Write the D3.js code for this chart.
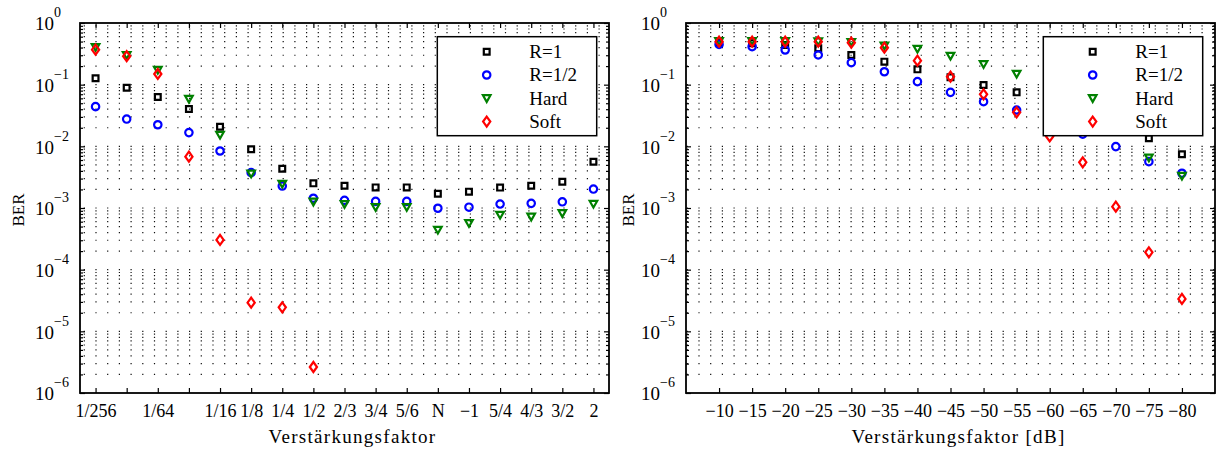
<!DOCTYPE html>
<html>
<head>
<meta charset="utf-8">
<script src="https://cdn.jsdelivr.net/npm/d3@7"></script>
<style>
  html, body { margin: 0; padding: 0; background: #fff; }
  svg { display: block; }
  text { font-family: "Liberation Serif", "DejaVu Serif", serif; fill: #000; }
</style>
</head>
<body>
<svg id="chart" width="1219" height="452"></svg>
<script>
// ---- Left panel: BER versus gain factor (categorical) ----
const leftTickLabels = ["1/256", "", "1/64", "", "1/16", "1/8", "1/4", "1/2", "2/3", "3/4", "5/6", "N", "\u22121", "5/4", "4/3", "3/2", "2"];
const leftR1   = [0.127, 0.089, 0.063, 0.0403, 0.0208, 0.00895, 0.00434, 0.00251, 0.0023, 0.00216, 0.00216, 0.0017, 0.00184, 0.00214, 0.0023, 0.00267, 0.00563];
const leftR12  = [0.044, 0.0277, 0.0224, 0.0167, 0.0084, 0.00374, 0.00227, 0.00144, 0.00133, 0.00128, 0.00128, 0.00099, 0.00103, 0.00116, 0.00119, 0.00126, 0.00203];
const leftHard = [0.404, 0.30, 0.173, 0.0586, 0.0153, 0.0036, 0.00245, 0.00126, 0.00115, 0.00103, 0.00103, 0.00044, 0.000565, 0.00077, 0.00072, 0.00082, 0.00116];
const leftSoft = [0.37, 0.29, 0.149, 0.0068, 0.000303, 2.92e-5, 2.45e-5, 2.64e-6, null, null, null, null, null, null, null, null, null];

// ---- Right panel: BER versus gain factor in dB ----
const dbValues  = [-10, -15, -20, -25, -30, -35, -40, -45, -50, -55, -60, -65, -70, -75, -80];
const rightR1   = [0.48, 0.47, 0.44, 0.389, 0.303, 0.236, 0.177, 0.132, 0.0988, 0.0751, 0.05, 0.035, 0.024, 0.0135, 0.00743];
const rightR12  = [0.45, 0.413, 0.365, 0.303, 0.227, 0.162, 0.112, 0.0751, 0.053, 0.0388, 0.026, 0.0158, 0.0099, 0.00564, 0.00366];
const rightHard = [0.505, 0.505, 0.505, 0.5, 0.49, 0.43, 0.38, 0.292, 0.214, 0.149, 0.09, 0.05, 0.025, 0.00654, 0.0033];
const rightSoft = [0.497, 0.497, 0.497, 0.497, 0.48, 0.398, 0.245, 0.135, 0.0697, 0.0356, 0.0145, 0.0055, 0.00105, 1.91e-4, 3.35e-5];

const seriesNames = ["R=1", "R=1/2", "Hard", "Soft"];
const yLabel = "BER";

const svg = d3.select("#chart");
const Y0 = 23, Y1 = 393;
const y = d3.scaleLog().domain([1, 1e-6]).range([Y0, Y1]);

const markerStyles = [
  { color: "#000000", path: "M-2.9,-2.9H2.9V2.9H-2.9Z" },
  { color: "#0000ff", path: "M3.7,0A3.7,3.7 0 1,1 -3.7,0A3.7,3.7 0 1,1 3.7,0Z" },
  { color: "#008000", path: "M-3.8,-3.1L3.8,-3.1L0,3.6Z" },
  { color: "#ff0000", path: "M0,-5L3.6,0L0,5L-3.6,0Z" }
];
const markerStroke = 2.2;

const majorTicks = d3.range(0, -7, -1).map(e => Math.pow(10, e));
const minorTicks = [];
for (let e = -6; e < 0; e++) for (let m = 2; m <= 9; m++) minorTicks.push(m * Math.pow(10, e));

function drawPanel(cfg) {
  const { x0, x1, x, xTicks, xFormat, series, xTitle } = cfg;
  const g = svg.append("g");

  // dotted horizontal grid at every major and minor decade position
  const gridVals = majorTicks.filter(v => v < 1 && v > 1e-6).concat(minorTicks);
  g.append("g").selectAll("line").data(gridVals).join("line")
    .attr("x1", x0).attr("x2", x1)
    .attr("y1", d => y(d)).attr("y2", d => y(d))
    .attr("stroke", "#111").attr("stroke-width", 1.2)
    .attr("stroke-dasharray", "1.2,10.5")
    .attr("stroke-dashoffset", cfg.dashOffset);

  // y axes (ticks pointing inward on both sides)
  const yl = g.append("g").attr("transform", `translate(${x0},0)`)
    .call(d3.axisLeft(y).tickValues(majorTicks).tickSizeInner(-5).tickSizeOuter(0).tickFormat(""));
  yl.select(".domain").remove();
  g.append("g").attr("transform", `translate(${x0},0)`)
    .call(d3.axisLeft(y).tickValues(minorTicks).tickSizeInner(-3).tickSizeOuter(0).tickFormat(""))
    .select(".domain").remove();
  g.append("g").attr("transform", `translate(${x1},0)`)
    .call(d3.axisRight(y).tickValues(majorTicks).tickSizeInner(-5).tickSizeOuter(0).tickFormat(""))
    .select(".domain").remove();
  g.append("g").attr("transform", `translate(${x1},0)`)
    .call(d3.axisRight(y).tickValues(minorTicks).tickSizeInner(-3).tickSizeOuter(0).tickFormat(""))
    .select(".domain").remove();

  // y tick labels: 10 with a superscript exponent
  yl.selectAll(".tick").each(function (d) {
    const t = d3.select(this);
    const exp = Math.round(Math.log10(d));
    t.append("text").attr("x", -26).attr("y", 6.8).attr("text-anchor", "end")
      .attr("font-size", 19).text("10");
    t.append("text").attr("x", -26).attr("y", -6.2).attr("text-anchor", "start")
      .attr("font-size", 14).text(exp === 0 ? "0" : "\u2212" + Math.abs(exp));
  });

  // x axes (bottom with labels, top ticks only)
  const xb = g.append("g").attr("transform", `translate(0,${Y1})`)
    .call(d3.axisBottom(x).tickValues(xTicks).tickSizeInner(-5).tickSizeOuter(0).tickFormat(xFormat));
  xb.select(".domain").remove();
  xb.selectAll(".tick text").attr("y", 24).attr("dy", null)
    .attr("font-size", 18).attr("font-family", "Liberation Serif").attr("fill", "#000");
  g.append("g").attr("transform", `translate(0,${Y0})`)
    .call(d3.axisTop(x).tickValues(xTicks).tickSizeInner(-5).tickSizeOuter(0).tickFormat(""))
    .select(".domain").remove();
  g.selectAll(".tick line").attr("stroke", "#000").attr("stroke-width", 1.2);

  // markers, drawn in series order so later series sit on top
  series.forEach((s, i) => {
    const st = markerStyles[i];
    g.append("g").selectAll("path")
      .data(s.values.map((v, j) => ({ v, k: s.keys[j] })).filter(p => p.v != null))
      .join("path")
      .attr("transform", p => `translate(${x(p.k)},${y(p.v)})`)
      .attr("d", st.path)
      .attr("fill", "none").attr("stroke", st.color).attr("stroke-width", markerStroke)
      .attr("stroke-linejoin", "miter");
  });

  // frame
  g.append("rect").attr("x", x0).attr("y", Y0).attr("width", x1 - x0).attr("height", Y1 - Y0)
    .attr("fill", "none").attr("stroke", "#000").attr("stroke-width", 1.8);

  // axis titles
  g.append("text").attr("x", (x0 + x1) / 2 + 8).attr("y", 443).attr("text-anchor", "middle")
    .attr("font-size", 19).attr("letter-spacing", 1.3).text(xTitle);
  g.append("text").attr("transform", `translate(${cfg.yTitleX},210) rotate(-90)`)
    .attr("text-anchor", "middle").attr("font-size", 17).text(yLabel);

  // legend
  const lx = x1 - 12.3 - 159.4, ly = Y0 + 13.7;
  const lg = g.append("g").attr("transform", `translate(${lx},${ly})`);
  lg.append("rect").attr("width", 159.4).attr("height", 99)
    .attr("fill", "#fff").attr("stroke", "#000").attr("stroke-width", 1.5);
  seriesNames.forEach((name, i) => {
    const ry = 15 + i * 23.3;
    lg.append("path").attr("transform", `translate(49.4,${ry})`).attr("d", markerStyles[i].path)
      .attr("fill", "none").attr("stroke", markerStyles[i].color).attr("stroke-width", markerStroke);
    lg.append("text").attr("x", 92).attr("y", ry + 6.3).attr("font-size", 19).text(name);
  });
}

// left panel
const leftIdx = d3.range(leftTickLabels.length);
const xLeft = d3.scalePoint().domain(leftIdx).range([80, 609]).padding(0.5);
drawPanel({
  x0: 80, x1: 609, x: xLeft, xTicks: leftIdx,
  xFormat: i => leftTickLabels[i],
  series: [leftR1, leftR12, leftHard, leftSoft].map(v => ({ values: v, keys: leftIdx })),
  xTitle: "Verst\u00e4rkungsfaktor", yTitleX: 24, dashOffset: 8
});

// right panel
const xRight = d3.scaleLinear().domain([-5, -85]).range([686, 1215]);
drawPanel({
  x0: 686, x1: 1215, x: xRight, xTicks: dbValues,
  xFormat: d3.format("d"),
  series: [rightR1, rightR12, rightHard, rightSoft].map(v => ({ values: v, keys: dbValues })),
  xTitle: "Verst\u00e4rkungsfaktor [dB]", yTitleX: 633.5, dashOffset: 11
});
</script>
</body>
</html>
